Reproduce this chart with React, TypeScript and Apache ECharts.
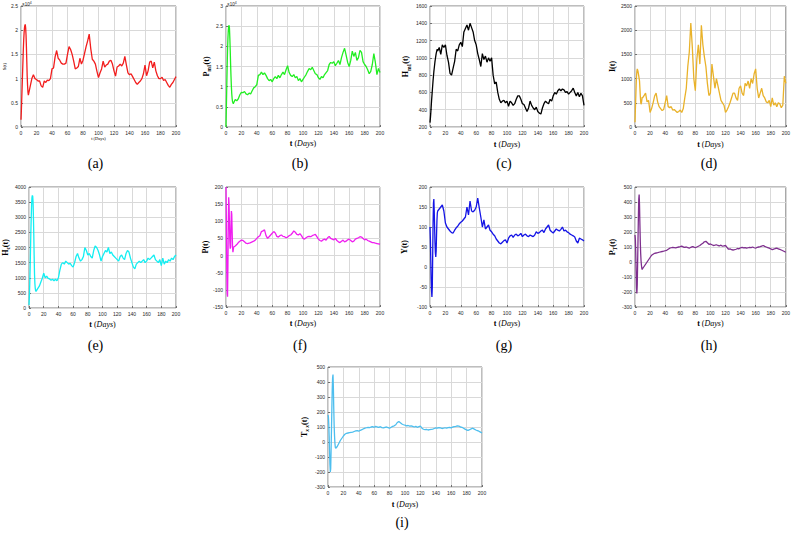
import React, { useEffect, useRef } from "react";
import * as echarts from "echarts";

// time samples (days)
const tDays = [
  0, 0.5, 1, 1.5, 2, 2.5, 3, 3.5, 4, 4.5, 5, 5.5, 6, 6.5, 7, 7.5, 8, 8.5, 9, 9.5, 10,
  12, 14, 16, 18, 20, 22, 24, 26, 28, 30,
  32, 34, 36, 38, 40, 42, 44, 46, 48, 50,
  52, 54, 56, 58, 60, 62, 64, 66, 68, 70,
  72, 74, 76, 78, 80, 82, 84, 86, 88, 90,
  92, 94, 96, 98, 100, 102, 104, 106, 108, 110,
  112, 114, 116, 118, 120, 122, 124, 126, 128, 130,
  132, 134, 136, 138, 140, 142, 144, 146, 148, 150,
  152, 154, 156, 158, 160, 162, 164, 166, 168, 170,
  172, 174, 176, 178, 180, 182, 184, 186, 188, 190,
  192, 194, 196, 198, 200,
];

// (a) S(t) x10^4
const sVals = [
  0.15, 0.35, 0.6, 0.85, 1.1, 1.35, 1.6, 1.8, 1.95, 2.05, 2.1, 2.12, 2.05, 1.9, 1.65, 1.35, 1.05, 0.85, 0.72, 0.66, 0.65,
  0.85, 1.0, 1.08, 1.0, 0.98, 0.95, 0.95, 0.85, 0.82, 0.95,
  0.92, 0.97, 0.96, 1.0, 1.2, 1.22, 1.45, 1.58, 1.42, 1.38,
  1.32, 1.3, 1.3, 1.32, 1.5, 1.66, 1.6, 1.5, 1.36, 1.2,
  1.22, 1.25, 1.42, 1.3, 1.38, 1.52, 1.66, 1.78, 1.92, 1.62,
  1.4, 1.36, 1.3, 1.15, 1.02, 1.12, 1.2, 1.36, 1.24, 1.28,
  1.3, 1.36, 1.38, 1.3, 1.16, 1.05, 1.24, 1.26, 1.3, 1.26,
  1.32, 1.46, 1.28, 1.12, 1.08, 1.1, 1.04, 0.98, 0.92, 0.88,
  0.92, 0.95, 1.0, 1.1, 1.28, 1.06, 1.16, 1.34, 1.36, 1.22,
  1.34, 1.16, 1.06, 1.0, 1.0, 1.03, 0.96, 0.98, 0.92, 0.86,
  0.82, 0.88, 0.92, 0.98, 1.04,
];

// (b) P_m1(t) x10^4
const pm1Vals = [
  0, 0.5, 1.0, 1.5, 1.9, 2.2, 2.4, 2.5, 2.52, 2.45, 2.2, 1.9, 1.55, 1.25, 1.0, 0.82, 0.7, 0.63, 0.6, 0.58, 0.6,
  0.68, 0.65, 0.7, 0.8, 0.86, 0.85, 0.88, 0.82, 0.8, 0.84,
  0.82, 0.9, 0.97, 1.0, 1.05, 1.28, 1.3, 1.36, 1.3, 1.34,
  1.28, 1.2, 1.15, 1.18, 1.12, 1.2, 1.25, 1.2, 1.28, 1.22,
  1.3, 1.36, 1.3, 1.42, 1.52, 1.35, 1.28, 1.25, 1.3, 1.22,
  1.25, 1.15, 1.2, 1.12, 1.18, 1.24, 1.3, 1.38, 1.45, 1.42,
  1.48, 1.4, 1.32, 1.3, 1.22, 1.18, 1.25, 1.22, 1.3, 1.35,
  1.4, 1.55, 1.6, 1.58, 1.62, 1.52, 1.58, 1.65, 1.55, 1.72,
  1.85, 1.95, 1.78, 1.6, 1.5, 1.65, 1.88, 1.75, 1.85, 1.65,
  1.72, 1.9, 1.85, 1.62, 1.55, 1.5, 1.42, 1.32, 1.38, 1.55,
  1.82, 1.6, 1.3, 1.45, 1.35,
];

// (c) H_m1(t)
const hm1Vals = [
  250, 300, 360, 430, 500, 560, 620, 680, 740, 790, 840, 880, 920, 960, 990, 1020, 1050, 1070, 1090, 1100, 1080,
  1120, 1040, 1150, 1120, 1150, 1030, 950, 820, 800, 880,
  960, 1100, 1080, 1150, 1180, 1130, 1300, 1340, 1380, 1320,
  1400, 1350, 1300, 1200, 1150, 1050, 980, 900, 1050, 980,
  1020, 950, 1000, 960, 1000, 800, 700, 720, 600, 520,
  480, 500, 510, 480, 500, 440, 500, 480, 450, 470,
  520, 560, 560, 520, 470, 460, 420, 380, 420, 500,
  450, 420, 400, 430, 380, 360, 350, 420, 470, 500,
  480, 470, 520, 500, 560, 600, 580, 620, 640, 620,
  640, 630, 600, 610, 580, 600, 620, 650, 600, 560,
  600, 550, 590, 560, 450,
];

// (d) I(t)
const iVals = [
  100, 350, 600, 850, 1050, 1150, 1200, 1180, 1150, 1100, 1050, 1000, 950, 800, 650, 520, 470, 500, 550, 620, 600,
  650, 700, 520, 550, 300, 380, 500, 640, 700, 520,
  420, 380, 340, 360, 500, 650, 420, 400, 420, 350,
  360, 330, 300, 320, 350, 300, 380, 600, 800, 1250,
  1550, 2150, 1650, 1000, 750, 1400, 1700, 1300, 2100, 1700,
  1450, 1250, 900, 650, 700, 1300, 1050, 800, 1000, 850,
  700, 550, 500, 450, 300, 350, 420, 500, 600, 700,
  700, 600, 550, 800, 850, 700, 650, 900, 850, 950,
  800, 1000, 900, 1100, 1200, 800, 600, 700, 800, 650,
  600, 520, 500, 550, 420, 600, 450, 500, 420, 500,
  480, 400, 450, 1050, 900,
];

// (e) H_c(t)
const hcVals = [
  100, 400, 800, 1300, 1900, 2500, 3000, 3400, 3650, 3720, 3700, 3500, 3000, 2400, 1700, 1100, 800, 650, 570, 550, 560,
  650, 720, 850, 980, 1150, 1000, 1050, 980, 960, 920,
  950, 900, 950, 900, 1000, 1250, 1450, 1500, 1450, 1550,
  1500, 1450, 1480, 1400, 1350, 1500, 1700, 1800, 1650, 1550,
  1600, 1700, 2000, 1900, 1750, 1800, 1700, 1650, 1900, 2050,
  2000, 1900, 1750, 1550, 1700, 1800, 1900, 1850, 2000, 1800,
  1850, 1750, 1700, 1650, 1600, 1550, 1700, 1750, 1650, 1600,
  1800, 1900, 1850, 1650, 1500, 1350, 1300, 1450, 1500, 1550,
  1500, 1550, 1600, 1500, 1550, 1650, 1600, 1650, 1700, 1750,
  1600, 1550, 1500, 1600, 1400, 1650, 1450, 1550, 1500, 1600,
  1550, 1650, 1600, 1700, 1750,
];

// (f) P(t)
const pVals = [
  200, 100, -40, -110, -120, -30, 100, 170, 150, 90, 40, 20, 25, 90, 130, 120, 70, 25, 10, 18, 25,
  28, 32, 38, 42, 45, 44, 40, 36, 35, 36,
  38, 40, 42, 45, 50, 55, 58, 70, 72, 75,
  58, 50, 55, 60, 65, 70, 66, 56, 54, 58,
  60, 56, 55, 52, 54, 58, 60, 65, 72, 68,
  62, 60, 64, 58, 50, 48, 52, 55, 56, 55,
  58, 60, 62, 55, 48, 44, 42, 46, 48, 45,
  52, 56, 50, 48, 46, 50, 44, 40, 38, 42,
  45, 40, 42, 46, 48, 44, 40, 42, 48, 50,
  52, 55, 54, 50, 46, 48, 44, 42, 40, 38,
  38, 36, 35, 34, 33,
];

// (g) Y(t)
const yVals = [
  100, 70, 20, -30, -60, -75, -50, 30, 110, 160, 170, 140, 100, 60, 35, 25, 40, 80, 115, 135, 140,
  145, 150, 155, 140, 110, 100, 95, 90, 86, 85,
  92, 98, 102, 108, 112, 115, 120, 125, 150, 130,
  165, 140, 138, 142, 150, 172, 148, 125, 100, 118,
  95, 100, 105, 92, 88, 82, 78, 70, 65, 60,
  58, 62, 66, 68, 60, 72, 78, 80, 74, 80,
  82, 78, 80, 84, 76, 80, 82, 78, 76, 80,
  78, 76, 80, 88, 84, 86, 90, 92, 86, 95,
  100, 105, 92, 88, 85, 90, 95, 92, 90, 94,
  100, 90, 92, 88, 86, 82, 80, 78, 75, 65,
  60, 72, 70, 68, 65,
];

// (h) P_T(t)
const ptVals = [
  180, 150, 60, -60, -170, -210, -150, 0, 150, 300, 420, 450, 380, 250, 140, 60, 10, -20, -40, -50, -45,
  -30, -15, 0, 15, 30, 45, 52, 58, 60, 62,
  65, 68, 70, 72, 75, 78, 85, 92, 95, 98,
  96, 94, 98, 100, 102, 106, 100, 98, 100, 96,
  92, 98, 102, 100, 95, 100, 105, 110, 118, 125,
  135, 138, 128, 118, 120, 115, 110, 112, 115, 110,
  108, 112, 105, 108, 110, 98, 85, 88, 82, 80,
  82, 85, 90, 88, 95, 98, 94, 96, 92, 95,
  98, 96, 100, 95, 92, 98, 100, 102, 106, 110,
  104, 100, 96, 92, 88, 82, 86, 90, 92, 88,
  84, 80, 75, 70, 65,
];

// (i) T_xx(t)
const txxVals = [
  180, 170, 120, 40, -60, -150, -200, -180, -60, 80, 220, 350, 430, 450, 360, 220, 110, 40, -10, -35, -42,
  -30, -10, 10, 25, 40, 52, 58, 60, 62, 64,
  66, 70, 74, 76, 72, 78, 82, 88, 92, 95,
  98, 96, 100, 102, 98, 104, 100, 98, 102, 96,
  94, 98, 100, 96, 92, 98, 104, 108, 115, 130,
  136, 128, 120, 115, 112, 108, 110, 106, 108, 104,
  100, 104, 98, 102, 106, 92, 85, 82, 84, 80,
  82, 84, 86, 90, 94, 92, 96, 94, 90, 92,
  95, 92, 96, 98, 94, 100, 102, 104, 108, 106,
  100, 98, 92, 86, 80, 78, 82, 88, 92, 86,
  80, 76, 72, 66, 60,
];

const captions = ["(a)", "(b)", "(c)", "(d)", "(e)", "(f)", "(g)", "(h)", "(i)"];

const SERIF = "'Liberation Serif', 'DejaVu Serif', serif";
const SANS = "'Liberation Sans', Arial, sans-serif";

type Panel = {
  vals: number[];
  color: string;
  g: [number, number, number, number];
  min: number;
  max: number;
  interval: number;
  yName: string;
  yGap: number;
  xGap: number;
  small?: boolean;
  exp?: boolean;
};

const panels: Panel[] = [
  { vals: sVals, color: "#f21d1d", g: [21, 6, 155, 121], min: 0, max: 2.5, interval: 0.5, yName: "S(t)", yGap: 11, xGap: 9, small: true, exp: true },
  { vals: pm1Vals, color: "#22ee22", g: [226, 6, 154, 121], min: 0, max: 3, interval: 0.5, yName: "{b|P}{s|m1}{b|(t)}", yGap: 14, xGap: 12, exp: true },
  { vals: hm1Vals, color: "#000000", g: [430, 6, 154, 121], min: 200, max: 1600, interval: 200, yName: "{b|H}{s|m1}{b|(t)}", yGap: 16, xGap: 13 },
  { vals: iVals, color: "#e9b22a", g: [635, 6, 154, 121], min: 0, max: 2500, interval: 500, yName: "{b|I(t)}", yGap: 16, xGap: 13 },
  { vals: hcVals, color: "#12eef2", g: [21, 187, 155, 121], min: 0, max: 4000, interval: 500, yName: "{b|H}{s|c}{b|(t)}", yGap: 17, xGap: 12 },
  { vals: pVals, color: "#f01ef0", g: [226, 187, 154, 120], min: -150, max: 200, interval: 50, yName: "{b|P(t)}", yGap: 12, xGap: 12 },
  { vals: yVals, color: "#1414e6", g: [430, 187, 154, 120], min: -100, max: 200, interval: 50, yName: "{b|Y(t)}", yGap: 20, xGap: 12 },
  { vals: ptVals, color: "#7e2f8e", g: [635, 187, 154, 120], min: -300, max: 500, interval: 100, yName: "{b|P}{s|T}{b|(t)}", yGap: 17, xGap: 12 },
  { vals: txxVals, color: "#4dbeee", g: [328, 367, 154, 120], min: -300, max: 500, interval: 100, yName: "{b|T}{si|x x}{b|(t)}", yGap: 18, xGap: 13 },
];

export default function App() {
  const ref = useRef<HTMLDivElement>(null);

  useEffect(() => {
    if (!ref.current) return;
    const chart = echarts.init(ref.current, null, { renderer: "svg" });

    const grids: any[] = [];
    const xAxes: any[] = [];
    const yAxes: any[] = [];
    const series: any[] = [];
    const graphics: any[] = [];
    const plain = (v: number) => String(v);
    const split = { show: true, lineStyle: { color: "#d9d9d9", width: 1, type: "solid", opacity: 1 } };

    panels.forEach((p, i) => {
      const [left, top, width, height] = p.g;
      grids.push({ left, top, width, height, show: true, borderColor: "#262626", borderWidth: 0.6, backgroundColor: "transparent", z: 0 });
      const nameFs = p.small ? 4.5 : 8;
      xAxes.push({
        type: "value",
        gridIndex: i,
        min: 0,
        max: 200,
        interval: 20,
        z: 1,
        name: p.small ? "t (Days)" : "{b|t} ({i|Days})",
        nameLocation: "middle",
        nameGap: p.xGap,
        nameTextStyle: {
          fontFamily: SERIF,
          fontSize: nameFs,
          color: "#000",
          rich: {
            b: { fontFamily: SERIF, fontSize: nameFs, fontWeight: "bold", color: "#000" },
            i: { fontFamily: SERIF, fontSize: nameFs, fontStyle: "italic", color: "#000" },
          },
        },
        axisLine: { show: false, onZero: false },
        axisTick: { show: true, inside: true, length: 2, lineStyle: { color: "#262626", width: 0.6 } },
        axisLabel: { fontSize: 5, color: "#262626", fontFamily: SANS, margin: 3, formatter: plain },
        splitLine: split,
      });
      yAxes.push({
        type: "value",
        gridIndex: i,
        min: p.min,
        max: p.max,
        interval: p.interval,
        z: 1,
        name: p.yName,
        nameLocation: "middle",
        nameGap: p.yGap,
        nameTextStyle: {
          fontFamily: SERIF,
          fontSize: p.small ? 5 : 8,
          color: "#000",
          rich: {
            b: { fontFamily: SERIF, fontSize: 8, fontWeight: "bold", color: "#000", lineHeight: 12 },
            s: { fontFamily: SERIF, fontSize: 5.5, fontWeight: "bold", color: "#000", verticalAlign: "bottom", lineHeight: 7 },
            si: { fontFamily: SERIF, fontSize: 5.5, fontWeight: "bold", fontStyle: "italic", color: "#000", verticalAlign: "bottom", lineHeight: 7 },
          },
        },
        axisLine: { show: false, onZero: false },
        axisTick: { show: true, inside: true, length: 2, lineStyle: { color: "#262626", width: 0.6 } },
        axisLabel: { fontSize: 5, color: "#262626", fontFamily: SANS, margin: 3, formatter: plain },
        splitLine: split,
      });
      series.push({
        type: "line",
        xAxisIndex: i,
        yAxisIndex: i,
        data: tDays.map((t, k) => [t, p.vals[k]]),
        showSymbol: false,
        symbol: "none",
        lineStyle: { color: p.color, width: 1.3 },
        itemStyle: { color: p.color },
        clip: true,
        z: 3,
      });
      const captionY = i < 4 ? 163 : i < 8 ? 345 : 522;
      graphics.push({
        type: "text",
        x: left + width / 2 - 3,
        y: captionY,
        style: {
          text: captions[i],
          fontSize: 14,
          fontFamily: SERIF,
          fill: "#000",
          align: "center",
          verticalAlign: "middle",
          textAlign: "center",
          textVerticalAlign: "middle",
        },
      });
      if (p.exp) {
        graphics.push({
          type: "text",
          x: left + 1,
          y: top - 5,
          style: {
            text: "{a|×10}{e|4}",
            fill: "#262626",
            rich: {
              a: { fontSize: 4.5, fontFamily: SANS, fill: "#262626", verticalAlign: "bottom", lineHeight: 6 },
              e: { fontSize: 3.5, fontFamily: SANS, fill: "#262626", verticalAlign: "top", lineHeight: 6 },
            },
          },
        });
      }
    });

    chart.setOption({
      animation: false,
      backgroundColor: "#ffffff",
      grid: grids,
      xAxis: xAxes,
      yAxis: yAxes,
      series,
      graphic: graphics,
    });

    return () => chart.dispose();
  }, []);

  return (
    <div
      ref={ref}
      style={{ position: "fixed", left: 0, top: 0, width: 793, height: 533, background: "#fff" }}
    />
  );
}
